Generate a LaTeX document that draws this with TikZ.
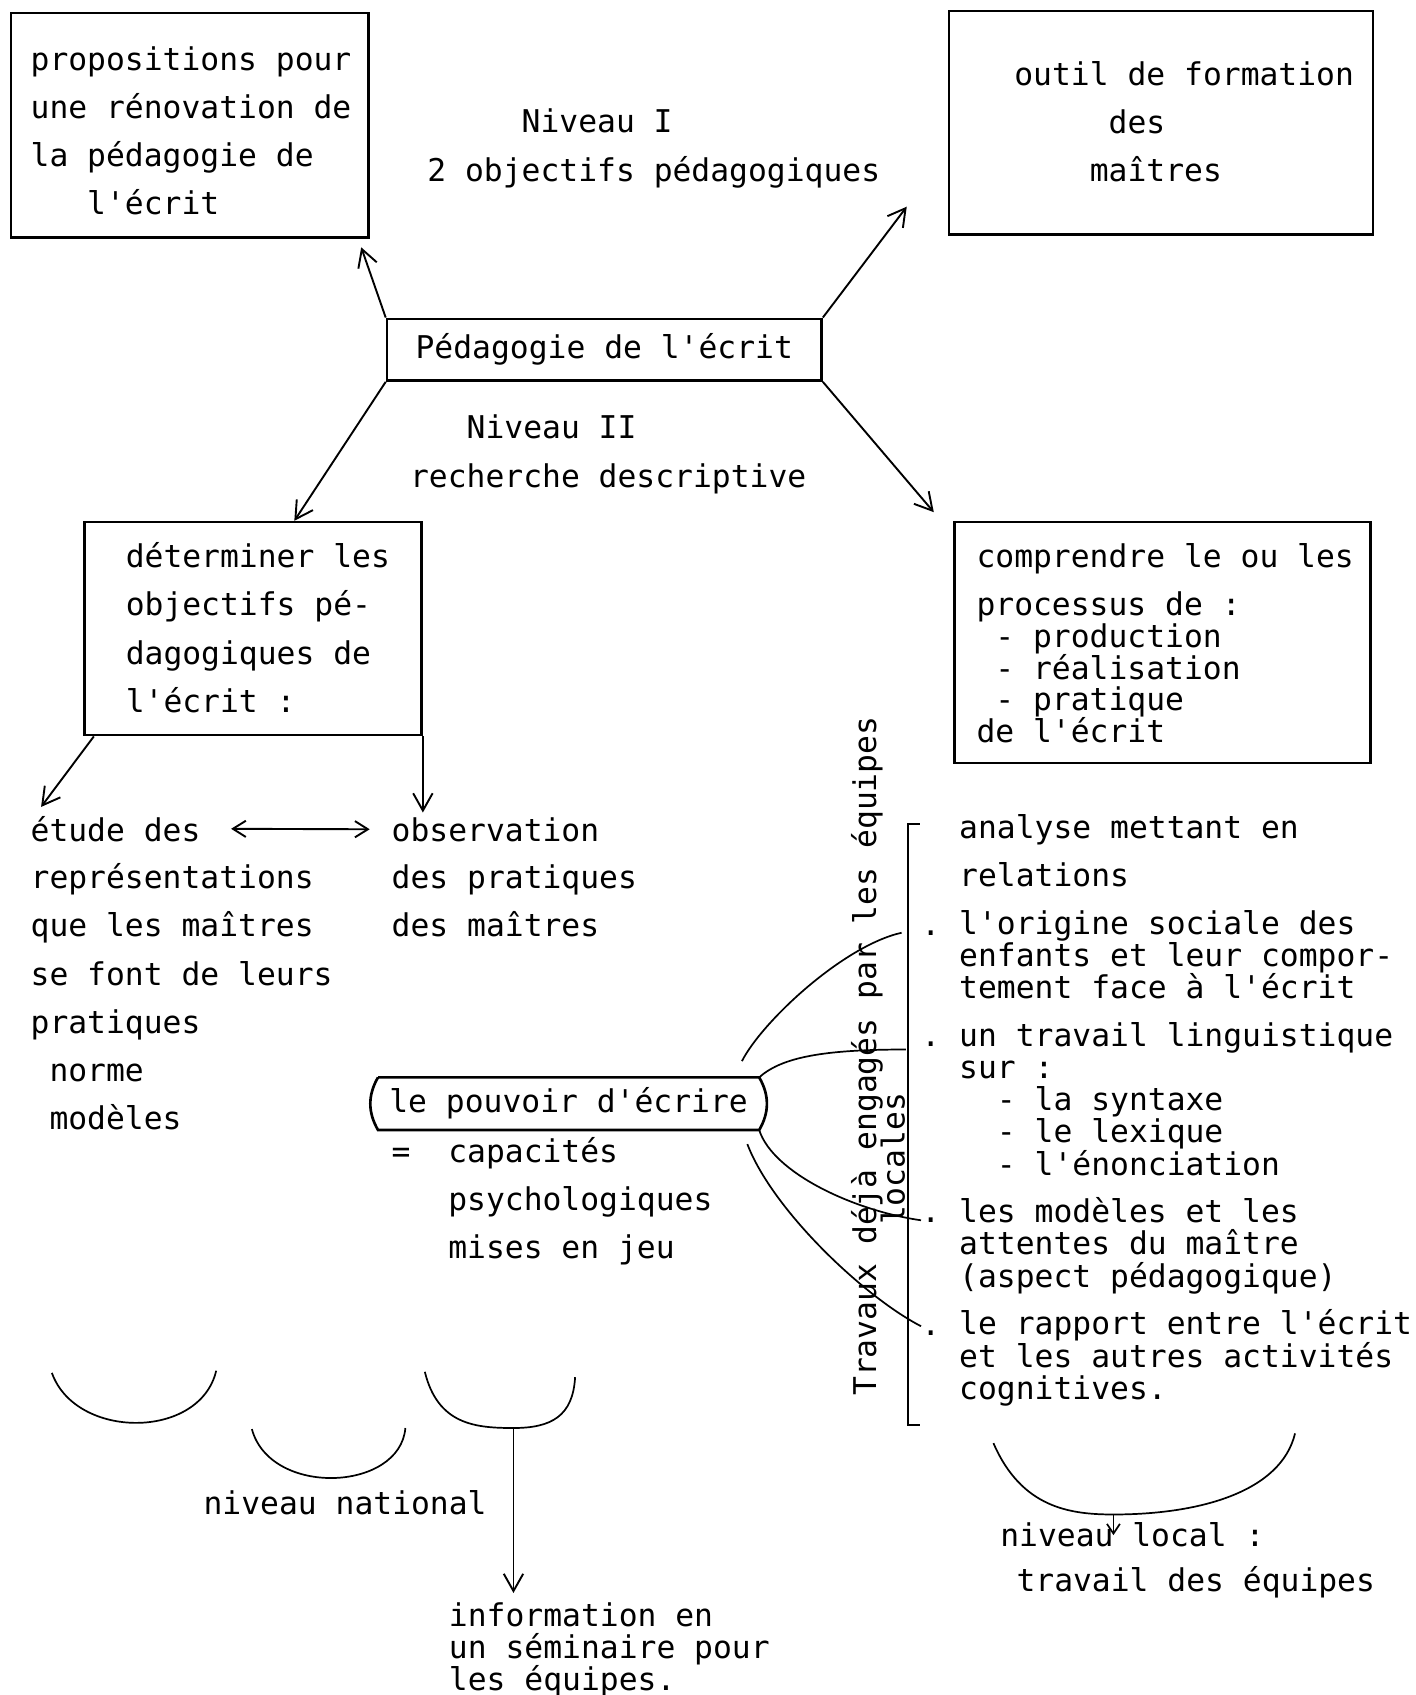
\documentclass[tikz,border=0pt]{standalone}
\usepackage{fontspec}
\setmonofont{DejaVu Sans Mono}
\usetikzlibrary{arrows.meta}
\newcommand{\mfont}{\ttfamily\fontsize{16.5}{25.4}\selectfont}
\lineskiplimit=-20pt

\begin{document}
\begin{tikzpicture}[x=0.02cm,y=-0.02cm]
		\tikzset{box/.style={draw,line width=1.4pt,inner sep=0pt,font=\mfont},
			txt/.style={font=\mfont,inner sep=0pt,anchor=base west},
			para/.style={txt,text width=12cm,align=left,font=\ttfamily\fontsize{16.5}{#1}\selectfont,
				execute at begin node={\spaceskip=0.602em\relax}},
			para/.default=25.4,
			arr/.style={-{Straight Barb[length=3.2mm,width=3.6mm]},line width=1pt},
			link/.style={line width=0.9pt}}
		\useasboundingbox (0,0) rectangle (1309,1568);
		
		\node[box,minimum width=6.62cm,minimum height=4.16cm] (A) at (175.5,116) {};
		\node[box,minimum width=7.84cm,minimum height=4.14cm] (B) at (1074,113.5) {};
		\node[box,minimum width=8.04cm,minimum height=1.14cm] (C) at (559,323.5) {Pédagogie de l'écrit};
		\node[box,minimum width=6.24cm,minimum height=3.94cm] (D) at (234,581.5) {};
		\node[box,minimum width=7.7cm,minimum height=4.46cm] (E) at (1075.5,594.5) {};
		
		\node[para] (tA) at (28,65) {propositions pour\\une rénovation de\\la pédagogie de\\\phantom{xxx}l'écrit};
		\node[para] (tB) at (938,79) {outil de formation\\\phantom{xxxxx}des\\\phantom{xxxx}maîtres};
		\node[para] (n1) at (395,123) {\phantom{xxxxx}Niveau I\\2 objectifs pédagogiques};
		\node[para] (n2) at (379,406) {\phantom{xxx}Niveau II\\recherche descriptive};
		\node[para] (tD) at (116,525) {déterminer les\\objectifs pé-\\dagogiques de\\l'écrit :};
		\node[para=16.8] (tE) at (903,525) {comprendre le ou les\\[8.3pt]processus de :\\\phantom{x}- production\\\phantom{x}- réalisation\\\phantom{x}- pratique\\de l'écrit};
		
		\draw[arr,shorten >=0.16cm] (C.north west) -- (A.-34);
		\draw[arr] (C.north east) -- ([shift={(-38,-27)}]B.south west);
		\draw[arr] (C.south west) -- (D.69);
		\draw[arr] (C.south east) -- ([shift={(-18,-8)}]E.north west);
		
		\node[txt] (etu) at (28,778) {étude des};
		\node[para] (rep) at (28,822) {représentations\\que les maîtres\\se font de leurs\\pratiques\\\phantom{x}norme\\\phantom{x}modèles};
		\node[txt] (obs) at (362,778) {observation};
		\node[para] (obsr) at (362,822) {des pratiques\\des maîtres};
		\draw[arr] ([shift={(10,0)}]D.south west) -- ([shift={(10,-8)}]etu.north west);
		\draw[arr,shorten >=0.08cm] (D.south east) -- (D.south east |- obs.north);
		\draw[{Straight Barb[length=2.4mm,width=3mm]}-{Straight Barb[length=2.4mm,width=3mm]},line width=1pt,shorten <=0.56cm,shorten >=0.4cm] (etu.east) -- (obs.west);
		
		\node[txt,anchor=center,minimum width=7.04cm,minimum height=0.96cm] (P) at (526,1021) {le pouvoir d'écrire};
		\draw[box] (P.north west) -- (P.north east) to[bend left=30] (P.south east) -- (P.south west) to[bend left=30] (P.north west);
		\node[para] (cap) at (362,1075) {=\phantom{xx}capacités\\\phantom{xxx}psychologiques\\\phantom{xxx}mises en jeu};
		
		\node[txt,anchor=center,rotate=90] (trav) at (802,977) {Travaux déjà engagés par les équipes};
		\node[txt,anchor=center,rotate=90] (loc) at (826,1072) {locales};
		\draw[line width=1.2pt] (851,762) -- (840,762) -- (840,1318) -- (851,1318);
		
		\node[para=16.9] (ana) at (887,776) {analyse mettant en\\[8.3pt]relations\\[8.3pt]l'origine sociale des\\enfants et leur compor-\\tement face à l'écrit\\[8.3pt]un travail linguistique\\sur :\\\phantom{xx}- la syntaxe\\\phantom{xx}- le lexique\\\phantom{xx}- l'énonciation\\[8.3pt]les modèles et les\\attentes du maître\\(aspect pédagogique)\\[8.3pt]le rapport entre l'écrit\\et les autres activités\\cognitives.};
		\node[txt] (b1) at (852,865) {.};
		\node[txt] (b2) at (852,968) {.};
		\node[txt] (b3) at (852,1131) {.};
		\node[txt] (b4) at (852,1235) {.};
		\draw[link] ([shift={(-16,-15)}]P.north east) .. controls (705,945) and (780,875) .. ([shift={(-18,0)}]b1.west);
		\draw[link] (P.north east) .. controls (725,976) and (770,971) .. ([shift={(-14,5)}]b2.west);
		\draw[link] (P.south east) .. controls (715,1085) and (790,1120) .. (b3.west);
		\draw[link] ([shift={(-11,13)}]P.south east) .. controls (715,1120) and (800,1200) .. ([shift={(0,-6)}]b4.west);
		
		\draw[link] (48,1270) .. controls (70,1332) and (185,1332) .. (200,1268);
		\draw[link] (233,1322) .. controls (250,1385) and (370,1380) .. (375,1321);
		\coordinate (u3) at (475,1321);
		\draw[link] (393,1269) .. controls (405,1318) and (440,1321) .. (u3) .. controls (510,1321) and (530,1310) .. (532,1274);
		\node[txt] (nnat) at (188,1401) {niveau national};
		\node[para=16.8] (info) at (415,1505) {information en\\un séminaire pour\\les équipes.};
		\draw[arr,shorten >=0.18cm] (u3) -- (u3 |- info.north);
		
		\coordinate (ub) at (1030,1401);
		\draw[link] (919,1335) .. controls (945,1395) and (990,1401) .. (ub) .. controls (1110,1401) and (1185,1380) .. (1198,1326);
		\node[txt] (nloc) at (925,1431) {niveau local :};
		\node[txt] (trv) at (940,1472) {travail des équipes};
		\draw[-{Straight Barb[length=1.8mm,width=2.4mm]},line width=0.9pt] (ub) -- (ub |- nloc.center);
\end{tikzpicture}
\end{document}
